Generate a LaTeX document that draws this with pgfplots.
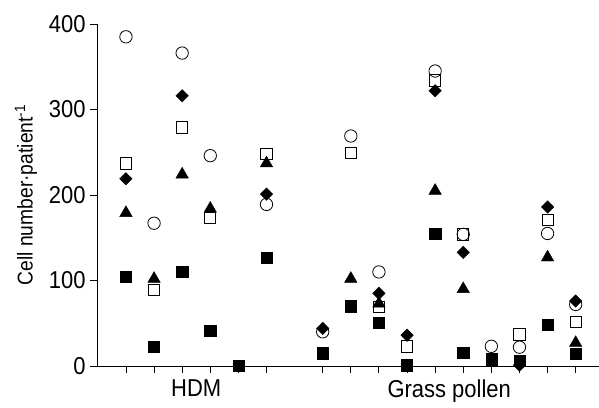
\documentclass[border=0pt]{standalone}
\usepackage{pgfplots}
\pgfplotsset{compat=1.18}
\usepackage{fontspec}
\setmainfont{Liberation Sans}[FakeStretch=0.9]
\begin{document}
\fontsize{22}{26}\selectfont
\begin{tikzpicture}
\path[use as bounding box] (-97bp,-42bp) rectangle (502bp,366bp);
\begin{axis}[
  scale only axis, width=502bp, height=342bp,
  xmin=-0.03, xmax=17.83, ymin=0, ymax=400,
  axis lines*=left, axis line style={line width=0.9pt},
  tick style={line width=0.9pt, black},
  major tick length=7bp, tick align=outside,
  ytick={0,100,200,300,400},
  xtick={1,2,3,4,5,6,8,9,10,11,12,13,14,15,16,17},
  xticklabels={},
  extra x ticks={3.5,12.5},
  extra x tick labels={HDM,Grass pollen},
  extra x tick style={major tick length=0pt, tick label style={yshift=-6bp}},
  /pgf/number format/assume math mode=true,
  tick label style={font=\fontsize{24.5}{28}\selectfont},
  yticklabel style={xshift=3bp},
  ylabel={Cell number·patient\textsuperscript{-1}},
  ylabel style={font=\fontsize{21.5}{25}\selectfont, yshift=-3bp},
  clip=false,
]
% open circles
\addplot[only marks, mark=o, mark size=6.2bp, mark options={line width=0.8pt, fill=white, draw=black}] coordinates {
(1,385)(2,167)(3,366)(4,246)(6,189)
(8,40)(9,269)(10,110)(12,345)(13,154)(14,23)(15,22)(16,155)(17,72)};
% open squares
\addplot[only marks, mark=square, mark size=5.6bp, mark options={line width=0.8pt, fill=white, draw=black}] coordinates {
(1,237)(2,89)(3,279)(4,173)(6,248)
(9,249)(10,69)(11,23)(12,334)(13,154)(15,37)(16,171)(17,52)};
% filled squares
\addplot[only marks, mark=square*, mark size=5.6bp, mark options={fill=black, draw=black}] coordinates {
(1,104)(2,23)(3,110)(4,41)(5,0)(6,127)
(8,15)(9,70)(10,51)(11,1)(12,155)(13,16)(14,8)(15,6)(16,48)(17,14)};
% filled triangles
\addplot[only marks, mark=triangle*, mark size=7.2bp, mark options={fill=black, draw=black}] coordinates {
(1,179)(2,102)(3,224)(4,184)(6,237)
(9,102)(10,73)(12,205)(13,90)(16,127)(17,27)};
% filled diamonds
\addplot[only marks, mark=square*, mark size=4.4bp, mark options={fill=black, draw=black, rotate=45}] coordinates {
(1,219)(3,316)(6,201)
(8,44)(10,85)(11,36)(12,322)(13,133)(15,1)(16,186)(17,76)};
\end{axis}
\end{tikzpicture}
\end{document}
